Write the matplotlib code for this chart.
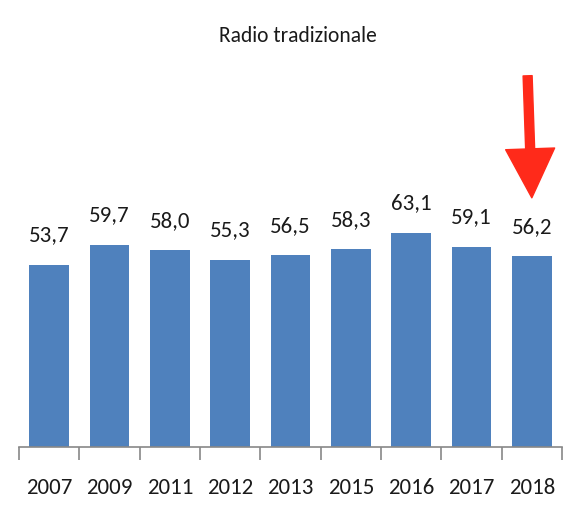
import matplotlib
matplotlib.use("Agg")
import matplotlib.pyplot as plt

years = ["2007", "2009", "2011", "2012", "2013", "2015", "2016", "2017", "2018"]
values = [53.7, 59.7, 58.0, 55.3, 56.5, 58.3, 63.1, 59.1, 56.2]
title = "Radio tradizionale"

plt.rcParams['font.family'] = ['Carlito', 'Roboto', 'DejaVu Sans']

fig = plt.figure(figsize=(5.85, 5.31), dpi=100)
ax = fig.add_axes([19 / 585, 1 - 447 / 531, 543 / 585, 339 / 531])

x = list(range(len(years)))
ax.bar(x, values, width=0.66, color="#4f81bd")
ax.set_xlim(-0.5, len(years) - 0.5)
ax.set_ylim(0, 100)

for xi, v in zip(x, values):
    ax.text(xi, v + 7.0, f"{v:.1f}".replace(".", ","), ha="center", va="baseline",
            fontsize=16.5, color="#1a1a1a")

# axis with tick marks between the bars
for side in ["top", "right", "left"]:
    ax.spines[side].set_visible(False)
ax.spines["bottom"].set_color("#888888")
ax.spines["bottom"].set_linewidth(1.2)
ax.set_yticks([])
ax.set_xticks([i - 0.5 for i in range(len(years) + 1)], minor=False)
ax.set_xticklabels([])
ax.tick_params(axis="x", which="major", length=9, width=1.2, color="#888888")
ax.set_xticks(x, minor=True)
ax.set_xticklabels(years, minor=True, fontsize=16.5, color="#1a1a1a")
ax.tick_params(axis="x", which="minor", length=0, pad=22)

fig.text(298 / 585, 1 - 36 / 531, title, ha="center", va="center", fontsize=15.5,
         color="#1a1a1a")

# red arrow pointing at the last bar
ax.annotate("", xy=(len(years) - 1, 73.5), xytext=(len(years) - 1.07, 109.5),
            annotation_clip=False,
            arrowprops=dict(arrowstyle=f"simple,head_width={49 / 1.389},"
                                       f"head_length={49 / 1.389},tail_width={9 / 1.389}",
                            mutation_scale=1, color="#ff2a1a", shrinkA=0, shrinkB=0))

fig.savefig("out.png", dpi=100)
